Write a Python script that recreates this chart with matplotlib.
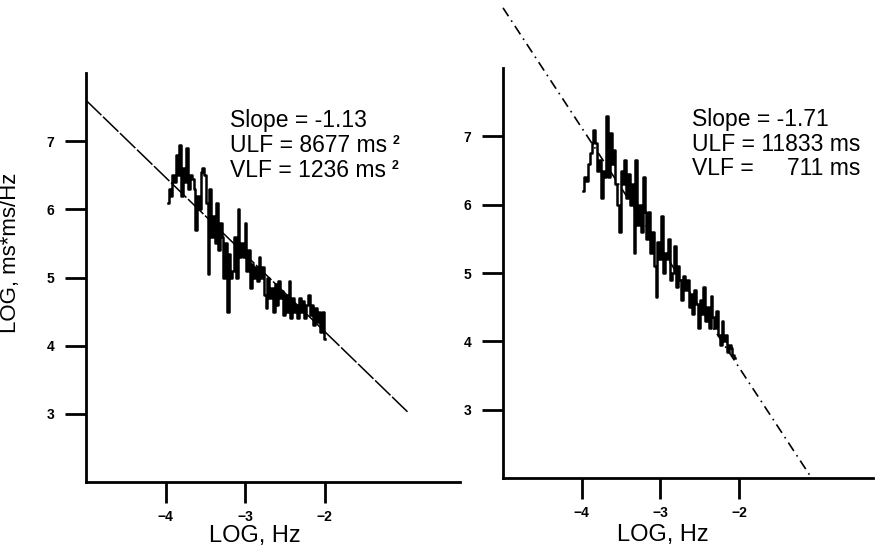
import numpy as np
import matplotlib
matplotlib.use('Agg')
import matplotlib.pyplot as plt

plt.rcParams['font.family'] = ['Liberation Sans', 'DejaVu Sans']

# left panel spectrum (log power vs log freq)
left_y = [6.1, 6.3, 6.2, 6.5, 6.4, 6.8, 6.5, 6.95,
          6.2, 6.6, 6.4, 6.9, 6.3, 6.5, 6.45, 6.3,
          5.7, 6.2, 6.0, 6.55, 6.6, 6.5, 6.1,
          5.05, 6.3, 5.6, 5.9, 5.5, 6.1, 5.4,
          5.8, 5.6, 5.0, 5.5, 4.5, 5.35, 5.0,
          5.1, 5.6, 5.0, 6.0, 5.3, 5.5, 5.3,
          5.8, 5.1, 5.4, 4.85, 5.2, 5.0, 5.15,
          4.95, 5.3, 5.0, 5.15, 4.75, 4.55, 5.0,
          4.7, 4.85, 4.5, 4.9, 4.6, 4.95, 4.7,
          4.8, 4.45, 4.75, 4.5, 4.95, 4.4, 4.7,
          4.5, 4.6, 4.4, 4.7, 4.5, 4.65, 4.4,
          4.6, 4.75, 4.45, 4.6, 4.3, 4.55, 4.35, 4.5, 4.2, 4.5, 4.1]
left_x = np.linspace(-3.97, -2.0, len(left_y))

# right panel spectrum
right_y = [6.2, 6.4, 6.35, 6.6, 6.75, 6.9, 7.1,
           6.9, 6.5, 6.65, 6.1, 6.5, 6.4, 7.3,
           6.4, 7.05, 6.6, 6.8, 6.3, 6.0, 5.6,
           6.5, 6.3, 6.66, 6.1, 6.45, 6.0, 6.3,
           5.3, 6.66, 5.7, 6.0, 5.6, 6.4, 5.9,
           5.5, 5.9, 5.3, 5.6, 5.1, 4.65, 5.45,
           5.2, 5.84, 5.0, 5.3, 5.2, 5.5, 4.9,
           5.0, 5.4, 4.8, 5.1, 4.9, 4.6, 4.95,
           4.75, 4.9, 4.5, 4.7, 4.4, 4.75, 4.55,
           4.2, 4.6, 4.4, 4.8, 4.3, 4.5, 4.2,
           4.67, 4.35, 4.2, 4.45, 4.1, 3.95, 4.3,
           4.0, 4.1, 3.85, 3.95, 3.9, 3.8, 3.75]
right_x = np.linspace(-3.98, -2.05, len(right_y))

# regression lines (end points)
left_fit_x = [-5.0, -0.96]
left_fit_y = [7.6, 3.03]
right_fit_x = [-5.0, -1.08]
right_fit_y = [8.88, 2.0]

xticks = [-4, -3, -2]
yticks = [3, 4, 5, 6, 7]

left_text = ['Slope = -1.13', 'ULF = 8677 ms', 'VLF = 1236 ms']
right_text = ['Slope = -1.71', 'ULF = 11833 ms', 'VLF =']
right_vlf_val = '711 ms'

fig = plt.figure(figsize=(8.81, 5.5), dpi=100)
ax1 = fig.add_axes([86/881, 1-482/550, 374/881, 409/550])
ax2 = fig.add_axes([503/881, 1-478/550, 370/881, 410/550])

def style(ax):
    for s in ['top', 'right']:
        ax.spines[s].set_visible(False)
    for s in ['left', 'bottom']:
        ax.spines[s].set_linewidth(2)
    ax.set_xlim(-5, -0.3)
    ax.set_ylim(2, 8)
    ax.set_xticks(xticks)
    ax.set_yticks(yticks)
    ax.tick_params(axis='both', length=15, width=2, labelsize=10)
    ax.tick_params(axis='x', pad=5)
    ax.tick_params(axis='y', pad=8)
    for lab in ax.get_xticklabels() + ax.get_yticklabels():
        lab.set_fontweight('bold')
    ax.set_xlabel('LOG, Hz', fontsize=17)

style(ax1)
style(ax2)

ax1.plot(left_fit_x, left_fit_y, color='black', lw=1.1, dashes=(14, 1.5))
ax1.plot(left_x, left_y, color='black', lw=1.8, drawstyle='steps-mid')
ax1.set_ylabel('LOG, ms*ms/Hz', fontsize=16)
ax1.yaxis.set_label_coords(-0.174, 0.56)
ax1.xaxis.set_label_coords(0.452, -0.105)

ax2.plot(right_fit_x, right_fit_y, color='black', lw=1.2, dashes=(6, 3, 1, 3), clip_on=False)
ax2.plot(right_x, right_y, color='black', lw=1.8, drawstyle='steps-mid')
ax2.xaxis.set_label_coords(0.432, -0.112)

# annotations
ly = [7.31, 6.94, 6.57]
texts = []
for s, yv in zip(left_text, ly):
    texts.append(ax1.text(-3.19, yv, s, fontsize=16.5, va='center'))
for t in texts[1:]:
    ax1.annotate('2', xy=(1, 1), xycoords=t, xytext=(4, -1), textcoords='offset points',
                 fontsize=9, fontweight='bold', va='top', ha='left')

ry = [7.25, 6.88, 6.53]
rtexts = []
for s, yv in zip(right_text, ry):
    rtexts.append(ax2.text(-2.6, yv, s, fontsize=16.5, va='center', clip_on=False))
ax2.annotate(right_vlf_val, xy=(1, ry[2]), xycoords=(rtexts[1], 'data'),
             fontsize=16.5, va='center', ha='right')

fig.savefig('out.png', dpi=100)
